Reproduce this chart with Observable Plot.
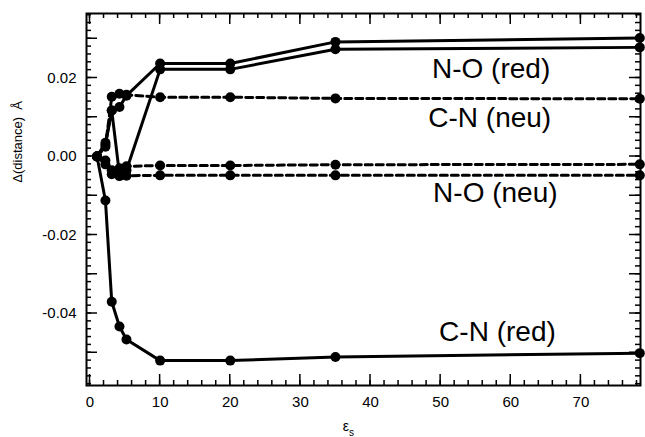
<!DOCTYPE html>
<!-- bond length change vs solvent dielectric constant: v9 -->
<html lang="en"><head><meta charset="utf-8"><title>Delta distance vs epsilon</title>
<script src="https://cdn.jsdelivr.net/npm/d3@7"></script>
<script src="https://cdn.jsdelivr.net/npm/@observablehq/plot@0.6"></script>
<style>
html,body{margin:0;padding:0;background:#ffffff;overflow:hidden;}
svg{font-family:"Liberation Sans",Arial,sans-serif;display:block;}
</style>
</head><body><div id="plot-root"></div>
<script>
// x: solvent dielectric constant
const epsilonS = [1, 2.2, 3.1, 4.2, 5.2, 10, 20, 35, 78.4];
// reduced species (solid lines)
const noRed1 = [0, 0.0030, 0.0117, 0.0126, 0.0155, 0.0237, 0.0237, 0.0292, 0.0302];
const noRed2 = [0, 0.0035, 0.0117, -0.0045, -0.0035, 0.0222, 0.0222, 0.0273, 0.0278];
const cnRedV = [0, -0.0112, -0.0370, -0.0433, -0.0466, -0.0520, -0.0520, -0.0511, -0.0501];
// neutral species (dashed lines)
const cnNeuV = [0, 0.0025, 0.0152, 0.0160, 0.0157, 0.0151, 0.0151, 0.0148, 0.0147];
const noNeu1 = [0, -0.0010, -0.0035, -0.0030, -0.0025, -0.0023, -0.0023, -0.0021, -0.0020];
const noNeu2 = [0, -0.0020, -0.0045, -0.0050, -0.0049, -0.0048, -0.0048, -0.0048, -0.0048];

const seriesLabelText = ["N-O (red)", "C-N (neu)", "N-O (neu)", "C-N (red)"];
const seriesLabelX = [57.2, 57.0, 57.8, 58.1];
const seriesLabelY = [0.0223, 0.0097, -0.0094, -0.0446];

const xTickValues = [0, 10, 20, 30, 40, 50, 60, 70];
const yTickValues = [-0.04, -0.02, 0, 0.02];
const xMinorTicks = d3.range(0, 79, 2);
const xMajorTicks = d3.range(0, 80, 10);
const yMinorTicks = d3.range(-58, 37, 2).map(d => d / 1000);
const yMajorTicks = d3.range(-5, 4).map(d => d / 100);

const xDom = [-0.5, 78.5];
const yDom = [-0.05834, 0.03643];

const toRows = (list) => list.flatMap(([name, vals]) => vals.map((v, i) => ({series: name, x: epsilonS[i], y: v})));
const solid = toRows([["noRed1", noRed1], ["noRed2", noRed2], ["cnRed", cnRedV]]);
const dashed = toRows([["cnNeu", cnNeuV], ["noNeu1", noNeu1], ["noNeu2", noNeu2]]);
const points = solid.concat(dashed);
const seriesLabels = seriesLabelText.map((t, i) => ({t, x: seriesLabelX[i], y: seriesLabelY[i]}));

const WIDTH = 645, HEIGHT = 437, ML = 86, MR = 5, MT = 13, MB = 52;

const svgPlot = Plot.plot({
  width: WIDTH, height: HEIGHT,
  marginLeft: ML, marginRight: MR, marginTop: MT, marginBottom: MB,
  style: {background: "#fff", color: "#000"},
  x: {domain: xDom, label: null},
  y: {domain: yDom, label: null},
  marks: [
    Plot.axisX(xTickValues, {anchor: "bottom", tickSize: 0, tickPadding: 11, fontSize: 15, tickFormat: d => String(d), label: null}),
    Plot.axisY(yTickValues, {anchor: "left", tickSize: 0, tickPadding: 10, fontSize: 15, tickFormat: d => d.toFixed(2), label: null}),
    Plot.line(solid, {x: "x", y: "y", z: "series", stroke: "#000", strokeWidth: 3}),
    Plot.line(dashed, {x: "x", y: "y", z: "series", stroke: "#000", strokeWidth: 3, strokeDasharray: "7,4"}),
    Plot.dot(points, {x: "x", y: "y", r: 5, fill: "#000"}),
    Plot.text(seriesLabels, {x: "x", y: "y", text: "t", fontSize: 28, fill: "#000"}),
    Plot.frame({stroke: "#000", strokeWidth: 2})
  ]
});
document.getElementById("plot-root").appendChild(svgPlot);

// inward ticks on all four sides, positioned with Plot's own scales
const sx = svgPlot.scale("x"), sy = svgPlot.scale("y");
const L = ML, R = WIDTH - MR, T = MT, B = HEIGHT - MB;
const svg = d3.select(svgPlot);
const tg = svg.append("g").attr("stroke", "#000").attr("stroke-width", 1.5);
function xt(vals, len) {
  for (const v of vals) {
    const p = sx.apply(v);
    tg.append("line").attr("x1", p).attr("x2", p).attr("y1", B).attr("y2", B - len);
    tg.append("line").attr("x1", p).attr("x2", p).attr("y1", T).attr("y2", T + len);
  }
}
function yt(vals, len) {
  for (const v of vals) {
    const p = sy.apply(v);
    tg.append("line").attr("y1", p).attr("y2", p).attr("x1", L).attr("x2", L + len);
    tg.append("line").attr("y1", p).attr("y2", p).attr("x1", R).attr("x2", R - len);
  }
}
xt(xMinorTicks, 5); xt(xMajorTicks, 11);
yt(yMinorTicks, 5); yt(yMajorTicks, 11);

// axis titles
svg.append("text")
  .attr("transform", `translate(18,${sy.apply(0.0036)}) rotate(-90)`)
  .attr("text-anchor", "middle").attr("dy", "0.32em")
  .attr("font-size", 13).attr("fill", "#000")
  .text("Δ(distance)\u00A0\u00A0Å");
const xt1 = svg.append("text")
  .attr("x", sx.apply(36.9)).attr("y", B + 46)
  .attr("text-anchor", "middle").attr("font-size", 14).attr("fill", "#000");
xt1.append("tspan").text("ε");
xt1.append("tspan").attr("font-size", 10).attr("dy", 5).text("s");
</script>
</body></html>
